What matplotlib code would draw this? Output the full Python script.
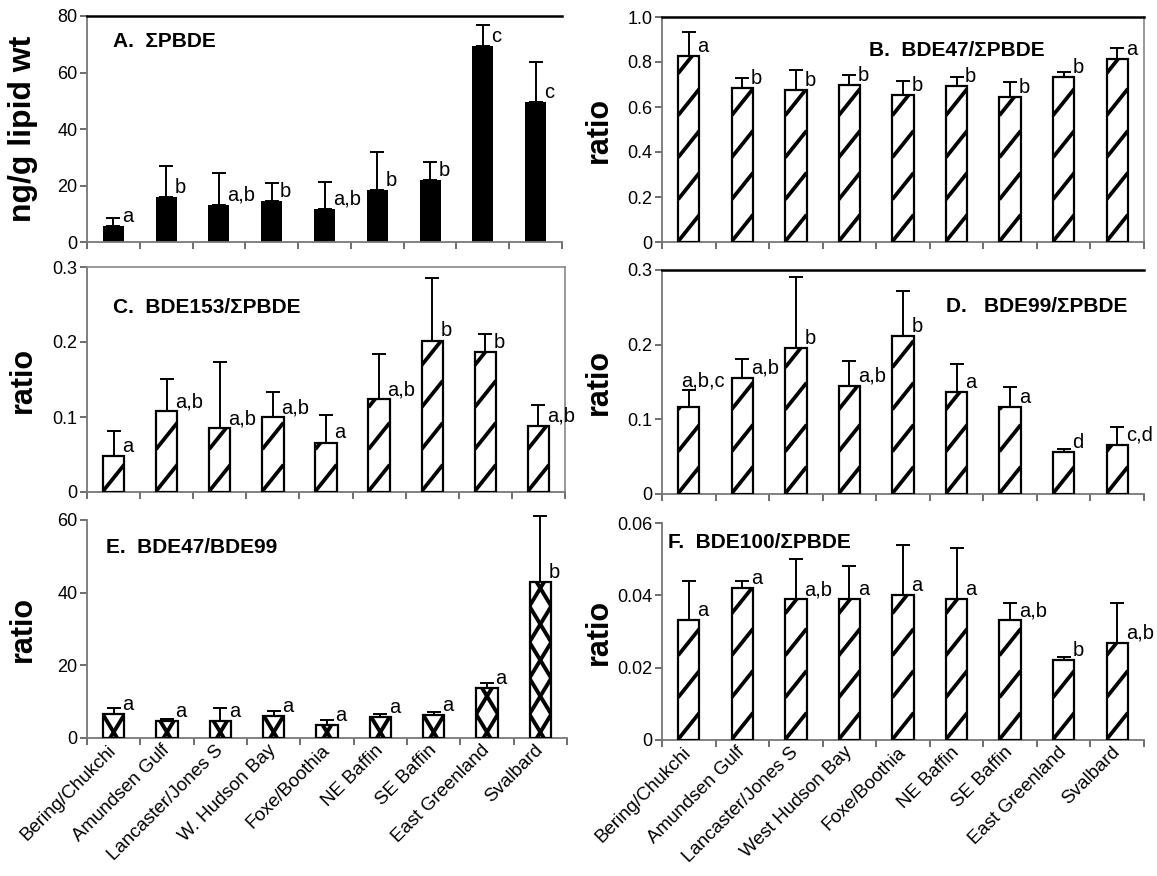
import numpy as np
import matplotlib
matplotlib.use('Agg')
import matplotlib.pyplot as plt

plt.rcParams['font.family'] = ['Liberation Sans', 'DejaVu Sans']

# Regions (x axis)
regions_e = ['Bering/Chukchi', 'Amundsen Gulf', 'Lancaster/Jones S', 'W. Hudson Bay',
             'Foxe/Boothia', 'NE Baffin', 'SE Baffin', 'East Greenland', 'Svalbard']
regions_f = ['Bering/Chukchi', 'Amundsen Gulf', 'Lancaster/Jones S', 'West Hudson Bay',
             'Foxe/Boothia', 'NE Baffin', 'SE Baffin', 'East Greenland', 'Svalbard']

# A. sum PBDE (ng/g lipid wt)
pbde = [5.8, 15.9, 13.2, 14.4, 11.7, 18.4, 21.8, 69.3, 49.7]
pbde_err = [2.8, 11.0, 11.2, 6.6, 9.4, 13.4, 6.4, 7.4, 13.9]
pbde_grp = ['a', 'b', 'a,b', 'b', 'a,b', 'b', 'b', 'c', 'c']

# B. BDE47 / sum PBDE
bde47 = [0.825, 0.686, 0.675, 0.698, 0.652, 0.692, 0.645, 0.734, 0.815]
bde47_err = [0.107, 0.045, 0.088, 0.045, 0.064, 0.042, 0.068, 0.023, 0.049]
bde47_grp = ['a', 'b', 'b', 'b', 'b', 'b', 'b', 'b', 'a']

# C. BDE153 / sum PBDE
bde153 = [0.048, 0.108, 0.085, 0.100, 0.066, 0.124, 0.202, 0.187, 0.088]
bde153_err = [0.033, 0.043, 0.088, 0.034, 0.037, 0.060, 0.084, 0.024, 0.028]
bde153_grp = ['a', 'a,b', 'a,b', 'a,b', 'a', 'a,b', 'b', 'b', 'a,b']

# D. BDE99 / sum PBDE
bde99 = [0.117, 0.156, 0.195, 0.145, 0.212, 0.136, 0.117, 0.056, 0.066]
bde99_err = [0.022, 0.025, 0.095, 0.033, 0.060, 0.038, 0.026, 0.004, 0.024]
bde99_grp = ['a,b,c', 'a,b', 'b', 'a,b', 'b', 'a', 'a', 'd', 'c,d']

# E. BDE47 / BDE99
r47_99 = [6.7, 4.8, 4.8, 6.0, 3.5, 5.8, 6.2, 13.8, 42.8]
r47_99_err = [1.5, 0.5, 3.4, 1.4, 1.5, 0.7, 1.0, 1.3, 18.2]
r47_99_grp = ['a', 'a', 'a', 'a', 'a', 'a', 'a', 'a', 'b']

# F. BDE100 / sum PBDE
bde100 = [0.0331, 0.0419, 0.0389, 0.0389, 0.0401, 0.0389, 0.0331, 0.0220, 0.0269]
bde100_err = [0.0110, 0.0022, 0.0111, 0.0091, 0.0139, 0.0141, 0.0049, 0.0010, 0.0111]
bde100_grp = ['a', 'a', 'a,b', 'a', 'a', 'a', 'a,b', 'b', 'a,b']

W, H = 1157, 876
fig = plt.figure(figsize=(W / 100, H / 100), dpi=100)


def rect(l, r, t, b):
    return [l / W, 1 - b / H, (r - l) / W, (b - t) / H]


def hatch_bars(ax, bars, period, slope, cross=False, lw=2.4):
    # draw thick diagonal stripes clipped to each bar
    inv = ax.transData.inverted()
    for bar in bars:
        (x0, y0), (x1, y1) = ax.transData.transform(
            [[bar.get_x(), 0], [bar.get_x() + bar.get_width(), bar.get_height()]])
        w = x1 - x0
        fams = [1, -1] if cross else [1]
        for sgn in fams:
            c = y0 - slope * w - period * 0.35
            while c < y1 + period:
                if sgn > 0:
                    pts = [[x0, c], [x1, c + slope * w]]
                else:
                    pts = [[x0, c + slope * w], [x1, c]]
                d = inv.transform(pts)
                ln, = ax.plot(d[:, 0], d[:, 1], color='black', lw=lw,
                              solid_capstyle='butt', zorder=2.2)
                ln.set_clip_path(bar)
                c += period


def panel(box, vals, errs, grps, ylim, yticks, fmt, title, tpos, style,
          spines, ylabel='ratio', labels=None):
    ax = fig.add_axes(box)
    x = np.arange(len(vals))
    ax.set_xlim(-0.5, len(vals) - 0.5)
    ax.set_ylim(*ylim)
    if style == 'solid':
        ax.bar(x, vals, 0.4, color='black', zorder=2)
    else:
        bars = ax.bar(x, vals, 0.4, color='white', zorder=2, edgecolor='none')
        if style == 'x':
            hatch_bars(ax, bars, 36, 1.65, cross=True, lw=2.8)
        else:
            hatch_bars(ax, bars, 42, 1.25, lw=2.7)
        ax.bar(x, vals, 0.4, fill=False, edgecolor='black', lw=1.6, zorder=3)
    ax.errorbar(x, vals, yerr=[np.zeros(len(vals)), errs], fmt='none',
                ecolor='black', elinewidth=1.4, capsize=5, capthick=1.4,
                zorder=4, clip_on=False)
    for i in range(len(vals)):
        if len(grps[i]) > 3:
            ax.text(i - 0.15, vals[i] + errs[i], grps[i], fontsize=14.5,
                    ha='left', va='bottom', zorder=5)
        else:
            ax.text(i + 0.16, vals[i], grps[i], fontsize=14.5,
                    ha='left', va='bottom', zorder=5)

    ax.set_yticks(yticks)
    ax.set_yticklabels([('0' if t == 0 else fmt.format(t)) for t in yticks])
    ax.set_yticks(yticks[1:-1], minor=True)
    ax.grid(True, which='minor', axis='y', linestyle=(0, (5, 3)),
            color='#444444', lw=1.0, zorder=1)
    ax.set_xticks(x)
    ax.set_xticks(np.arange(len(vals) + 1) - 0.5, minor=True)
    ax.tick_params(axis='x', which='major', length=0, pad=7)
    ax.tick_params(axis='x', which='minor', length=5, color='#555555', width=1.2)
    ax.tick_params(axis='y', which='major', length=5, color='#555555', width=1.2,
                   labelsize=13, pad=2)
    ax.tick_params(axis='y', which='minor', length=0)
    if labels is None:
        ax.set_xticklabels([])
    else:
        ax.set_xticklabels(labels, rotation=45, ha='right', va='center',
                           rotation_mode='anchor', fontsize=13.5)
    for s in ['left', 'bottom']:
        ax.spines[s].set_color('#777777')
        ax.spines[s].set_linewidth(1.3)
    for s in ['top', 'right']:
        c = spines.get(s)
        if c is None:
            ax.spines[s].set_visible(False)
        else:
            ax.spines[s].set_color(c)
            ax.spines[s].set_linewidth(1.8 if c == 'black' else 1.2)
    ax.text(tpos[0], tpos[1], title, transform=ax.transAxes, fontsize=15,
            fontweight='bold', ha='left', va='center')
    ax.set_ylabel(ylabel, fontsize=22, fontweight='bold')
    return ax


axA = panel(rect(87, 562, 16, 242), pbde, pbde_err, pbde_grp, (0, 80),
            [0, 20, 40, 60, 80], '{:.0f}', 'A.  ΣPBDE', (0.055, 0.885),
            'solid', {'top': 'black'}, ylabel='ng/g lipid wt')
axB = panel(rect(662, 1144, 17, 242), bde47, bde47_err, bde47_grp, (0, 1.0),
            [0, 0.2, 0.4, 0.6, 0.8, 1.0], '{:.1f}', 'B.  BDE47/ΣPBDE',
            (0.43, 0.853), 'line', {'top': 'black', 'right': '#888888'})
axC = panel(rect(87, 565, 267, 492), bde153, bde153_err, bde153_grp, (0, 0.3),
            [0, 0.1, 0.2, 0.3], '{:.1f}', 'C.  BDE153/ΣPBDE', (0.055, 0.822),
            'line', {'top': '#888888', 'right': '#888888'})
axD = panel(rect(662, 1144, 270, 494), bde99, bde99_err, bde99_grp, (0, 0.3),
            [0, 0.1, 0.2, 0.3], '{:.1f}', 'D.   BDE99/ΣPBDE', (0.59, 0.835),
            'line', {'top': 'black'})
axE = panel(rect(87, 567, 520, 738), r47_99, r47_99_err, r47_99_grp, (0, 60),
            [0, 20, 40, 60], '{:.0f}', 'E.  BDE47/BDE99', (0.04, 0.876),
            'x', {}, labels=regions_e)
axF = panel(rect(662, 1144, 523, 740), bde100, bde100_err, bde100_grp, (0, 0.06),
            [0, 0.02, 0.04, 0.06], '{:.2f}', 'F.  BDE100/ΣPBDE', (0.013, 0.912),
            'line', {}, labels=regions_f)

for ax in [axA, axC, axE]:
    ax.yaxis.set_label_coords(-0.103, 0.5)
for ax in [axB, axD, axF]:
    ax.yaxis.set_label_coords(-0.1, 0.5)
axA.yaxis.label.set_fontsize(23)

fig.savefig('out.png', dpi=100)
